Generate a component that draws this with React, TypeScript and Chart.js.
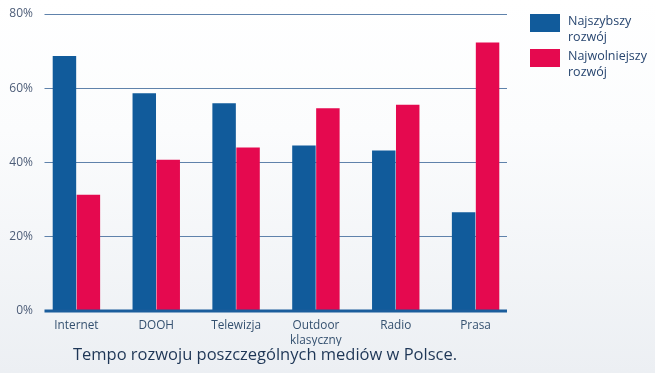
import React, { useEffect, useRef } from "react";
import { Chart, registerables } from "chart.js";

Chart.register(...registerables);

const categories: (string | string[])[] = ["Internet", "DOOH", "Telewizja", ["Outdoor", "klasyczny"], "Radio", "Prasa"];
const fastest = [68.7, 58.6, 55.9, 44.5, 43.2, 26.5];
const slowest = [31.2, 40.7, 44.0, 54.6, 55.5, 72.3];
const seriesLabels = ["Najszybszy rozwój", "Najwolniejszy rozwój"];
const yTicks = [0, 20, 40, 60, 80];
const titleText = "Tempo rozwoju poszczególnych mediów w Polsce.";

const BLUE = "#115b9b";
const RED = "#e5094f";
const FONT = "'Open Sans', sans-serif";

const bgPlugin = {
  id: "bg",
  beforeDraw(chart: any) {
    const { ctx, width, height } = chart;
    const g = ctx.createLinearGradient(0, 0, 0, height);
    g.addColorStop(0, "#ffffff");
    g.addColorStop(0.35, "#fbfcfd");
    g.addColorStop(1, "#eceff3");
    ctx.save();
    ctx.fillStyle = g;
    ctx.fillRect(0, 0, width, height);
    ctx.restore();
  },
};

const gridPlugin = {
  id: "customGrid",
  beforeDatasetsDraw(chart: any) {
    const { ctx, chartArea, scales } = chart;
    const x0 = chartArea.left + 8;
    const x1 = chartArea.right - 8.5;
    ctx.save();
    yTicks.forEach((v) => {
      if (v === 0) return;
      const y = Math.round(scales.y.getPixelForValue(v)) + 0.5;
      ctx.beginPath();
      ctx.strokeStyle = "#5f82ab";
      ctx.lineWidth = 1;
      ctx.moveTo(x0, y);
      ctx.lineTo(x1, y);
      ctx.stroke();
    });
    ctx.restore();
  },
  afterDatasetsDraw(chart: any) {
    const { ctx, chartArea, scales } = chart;
    const x0 = chartArea.left + 8;
    const x1 = chartArea.right - 8.5;
    const y = scales.y.getPixelForValue(0);
    ctx.save();
    ctx.fillStyle = "#1a5d9c";
    ctx.fillRect(x0, y - 1, x1 - x0, 3);
    ctx.restore();
  },
};

const legendPlugin = {
  id: "customLegend",
  afterDraw(chart: any) {
    const { ctx, chartArea, height } = chart;
    const bx = chartArea.right + 14.5;
    ctx.save();
    ctx.font = `12.5px ${FONT}`;
    ctx.textBaseline = "middle";
    ctx.textAlign = "left";
    chart.data.datasets.forEach((ds: any, i: number) => {
      const top = 14 + i * 35;
      ctx.fillStyle = ds.backgroundColor;
      ctx.fillRect(bx, top, 30, 18);
      ctx.fillStyle = "#284670";
      const words = String(ds.label).split(" ");
      words.forEach((w: string, j: number) => {
        ctx.fillText(w, bx + 38, top + 7 + j * 16);
      });
    });
    // bottom caption
    ctx.font = `16.5px ${FONT}`;
    ctx.fillStyle = "#1e3656";
    ctx.textAlign = "center";
    ctx.fillText(titleText, chartArea.left + 228.5, height - 18);
    ctx.restore();
  },
};

export default function App() {
  const ref = useRef<HTMLCanvasElement | null>(null);
  useEffect(() => {
    if (!ref.current) return;
    const chart = new Chart(ref.current, {
      type: "bar",
      data: {
        labels: categories,
        datasets: [
          { label: seriesLabels[0], data: fastest, backgroundColor: BLUE, categoryPercentage: 0.6, barPercentage: 0.98 },
          { label: seriesLabels[1], data: slowest, backgroundColor: RED, categoryPercentage: 0.6, barPercentage: 0.98 },
        ],
      },
      options: {
        animation: false,
        responsive: false,
        maintainAspectRatio: false,
        layout: { padding: { left: 0, right: 139.5, top: 14, bottom: 27 } },
        plugins: {
          legend: { display: false },
          tooltip: { enabled: false },
          title: { display: false },
        },
        scales: {
          x: {
            grid: { display: false, drawTicks: false },
            border: { display: false },
            ticks: {
              color: "#34506f",
              font: { family: FONT, size: 11.8 },
              padding: 8.5,
              maxRotation: 0,
              autoSkip: false,
            },
            afterFit: (s: any) => {
              s.height = 35.5;
            },
          },
          y: {
            min: 0,
            max: 80,
            grid: { display: false, drawTicks: false },
            border: { display: false },
            ticks: {
              stepSize: 20,
              color: "#4d5d78",
              font: { family: FONT, size: 12 },
              padding: 3.5,
              callback: (v: any) => v + "%",
            },
            afterFit: (s: any) => {
              s.width = 36.5;
            },
          },
        },
      },
      plugins: [bgPlugin, gridPlugin, legendPlugin],
    });
    return () => chart.destroy();
  }, []);
  return (
    <div style={{ position: "absolute", left: 0, top: 0, width: 655, height: 373 }}>
      <canvas ref={ref} width={655} height={373} style={{ display: "block" }} />
    </div>
  );
}
